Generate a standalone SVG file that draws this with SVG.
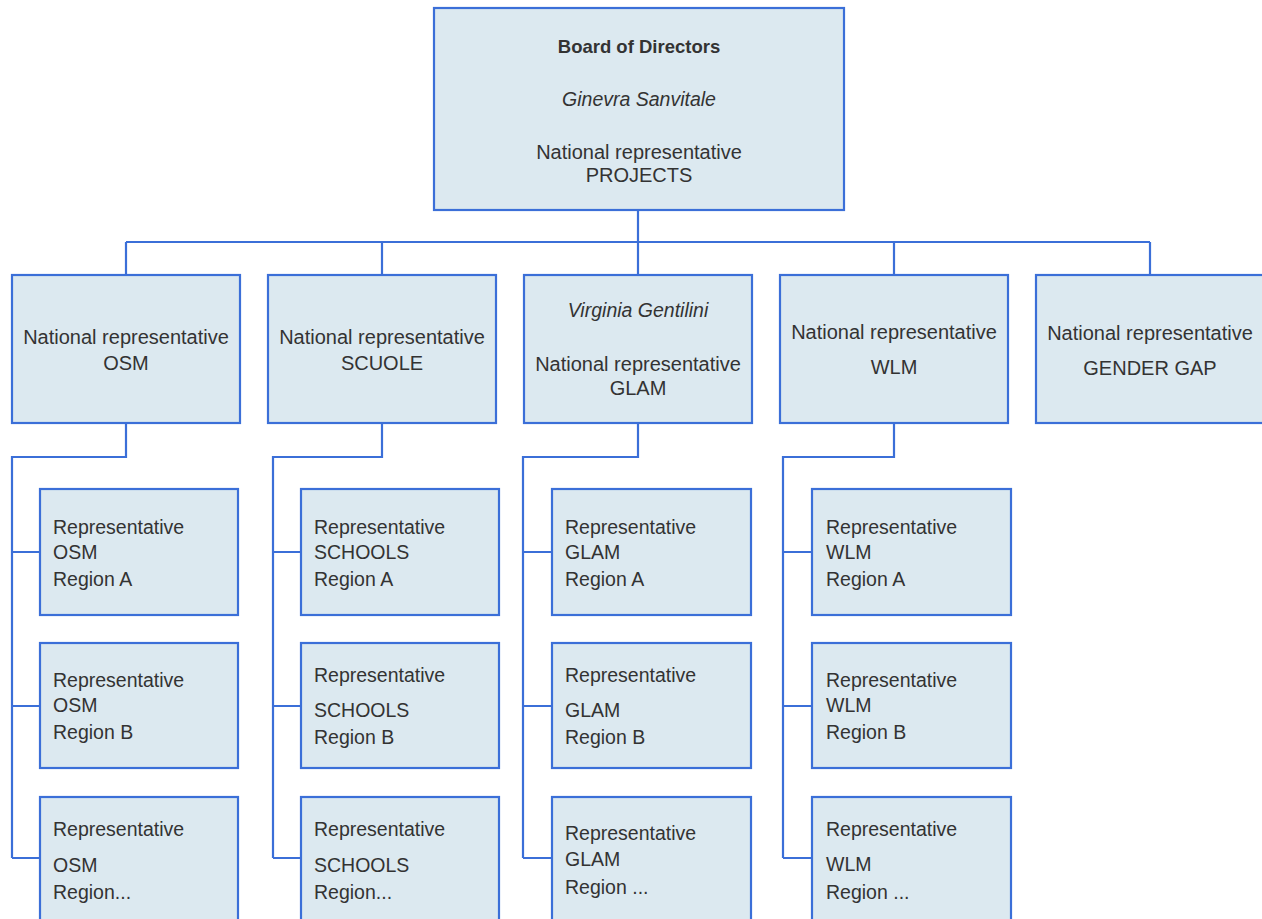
<svg xmlns="http://www.w3.org/2000/svg" width="1262" height="919" viewBox="0 0 1262 919">
<style>
.box{fill:#dce9f0;stroke:#3b6fd8;stroke-width:2.2}
.conn{fill:none;stroke:#3b6fd8;stroke-width:2.2}
text{font-family:"Liberation Sans",Arial,sans-serif;fill:#333;font-size:20px}
.c{text-anchor:middle}
.b{font-weight:bold;font-size:18.5px}
.i{font-style:italic;font-size:19.5px}
.s{font-size:19.5px}
</style>
<rect width="1262" height="919" fill="#ffffff"/>
<g id="connectors">
<path class="conn" d="M638 210V275M126 242H1150M126 242V275M382 242V275M894 242V275M1150 242V275"/>
<path class="conn" d="M126 423V457H12V858M12 552H40M12 706H40M12 858H40"/>
<path class="conn" d="M382 423V457H273V858M273 552H301M273 706H301M273 858H301"/>
<path class="conn" d="M638 423V457H523V858M523 552H552M523 706H552M523 858H552"/>
<path class="conn" d="M894 423V457H783V858M783 552H812M783 706H812M783 858H812"/>
</g>
<g id="board">
<rect class="box" x="434" y="8" width="410" height="202"/>
<text class="c b" x="639" y="53">Board of Directors</text>
<text class="c i" x="639" y="106">Ginevra Sanvitale</text>
<text class="c" x="639" y="159">National representative</text>
<text class="c" x="639" y="182">PROJECTS</text>
</g>
<g id="nat-osm">
<rect class="box" x="12" y="275" width="228" height="148"/>
<text class="c" x="126" y="344">National representative</text>
<text class="c" x="126" y="370">OSM</text>
</g>
<g id="nat-scuole">
<rect class="box" x="268" y="275" width="228" height="148"/>
<text class="c" x="382" y="344">National representative</text>
<text class="c" x="382" y="370">SCUOLE</text>
</g>
<g id="nat-glam">
<rect class="box" x="524" y="275" width="228" height="148"/>
<text class="c i" x="638" y="317">Virginia Gentilini</text>
<text class="c" x="638" y="371">National representative</text>
<text class="c" x="638" y="395">GLAM</text>
</g>
<g id="nat-wlm">
<rect class="box" x="780" y="275" width="228" height="148"/>
<text class="c" x="894" y="339">National representative</text>
<text class="c" x="894" y="374">WLM</text>
</g>
<g id="nat-gender">
<rect class="box" x="1036" y="275" width="228" height="148"/>
<text class="c" x="1150" y="340">National representative</text>
<text class="c" x="1150" y="375">GENDER GAP</text>
</g>
<g id="osm-a">
<rect class="box" x="40" y="489" width="198" height="126"/>
<text class="s" x="53" y="534">Representative</text>
<text class="s" x="53" y="559">OSM</text>
<text class="s" x="53" y="586">Region A</text>
</g>
<g id="osm-b">
<rect class="box" x="40" y="643" width="198" height="125"/>
<text class="s" x="53" y="687">Representative</text>
<text class="s" x="53" y="712">OSM</text>
<text class="s" x="53" y="739">Region B</text>
</g>
<g id="osm-c">
<rect class="box" x="40" y="797" width="198" height="140"/>
<text class="s" x="53" y="836">Representative</text>
<text class="s" x="53" y="872">OSM</text>
<text class="s" x="53" y="899">Region...</text>
</g>
<g id="schools-a">
<rect class="box" x="301" y="489" width="198" height="126"/>
<text class="s" x="314" y="534">Representative</text>
<text class="s" x="314" y="559">SCHOOLS</text>
<text class="s" x="314" y="586">Region A</text>
</g>
<g id="schools-b">
<rect class="box" x="301" y="643" width="198" height="125"/>
<text class="s" x="314" y="682">Representative</text>
<text class="s" x="314" y="717">SCHOOLS</text>
<text class="s" x="314" y="744">Region B</text>
</g>
<g id="schools-c">
<rect class="box" x="301" y="797" width="198" height="140"/>
<text class="s" x="314" y="836">Representative</text>
<text class="s" x="314" y="872">SCHOOLS</text>
<text class="s" x="314" y="899">Region...</text>
</g>
<g id="glam-a">
<rect class="box" x="552" y="489" width="199" height="126"/>
<text class="s" x="565" y="534">Representative</text>
<text class="s" x="565" y="559">GLAM</text>
<text class="s" x="565" y="586">Region A</text>
</g>
<g id="glam-b">
<rect class="box" x="552" y="643" width="199" height="125"/>
<text class="s" x="565" y="682">Representative</text>
<text class="s" x="565" y="717">GLAM</text>
<text class="s" x="565" y="744">Region B</text>
</g>
<g id="glam-c">
<rect class="box" x="552" y="797" width="199" height="140"/>
<text class="s" x="565" y="840">Representative</text>
<text class="s" x="565" y="866">GLAM</text>
<text class="s" x="565" y="894">Region ...</text>
</g>
<g id="wlm-a">
<rect class="box" x="812" y="489" width="199" height="126"/>
<text class="s" x="826" y="534">Representative</text>
<text class="s" x="826" y="559">WLM</text>
<text class="s" x="826" y="586">Region A</text>
</g>
<g id="wlm-b">
<rect class="box" x="812" y="643" width="199" height="125"/>
<text class="s" x="826" y="687">Representative</text>
<text class="s" x="826" y="712">WLM</text>
<text class="s" x="826" y="739">Region B</text>
</g>
<g id="wlm-c">
<rect class="box" x="812" y="797" width="199" height="140"/>
<text class="s" x="826" y="836">Representative</text>
<text class="s" x="826" y="871">WLM</text>
<text class="s" x="826" y="899">Region ...</text>
</g>
</svg>
